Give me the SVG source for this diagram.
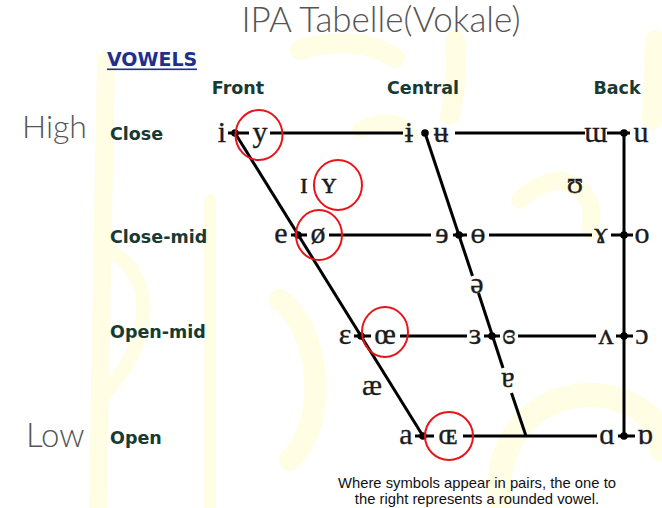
<svg xmlns="http://www.w3.org/2000/svg" width="662" height="508" viewBox="0 0 662 508">
  <style>
    .title { font-family: Lato, "Open Sans", sans-serif; font-weight: 300; fill: #555555; }
    .hdr { font-family: "DejaVu Sans", Verdana, sans-serif; font-weight: bold; font-size: 17.5px; fill: #173a33; }
    .v { font-family: "Liberation Serif", "DejaVu Serif", serif; font-size: 30px; fill: #1c1c1c; stroke: #1c1c1c; stroke-width: 0.35; text-anchor: middle; }
    .note { font-family: "Liberation Sans", Arial, sans-serif; font-size: 14.8px; fill: #111; text-anchor: middle; }
    .ln { stroke: #000; stroke-width: 3; fill: none; stroke-linecap: butt; }
    .dot { fill: #000; }
    .ring { fill: none; stroke: #e8141a; stroke-width: 2; }
    .wm { fill: none; stroke: #fffde4; stroke-linecap: round; }
  </style>

  <rect width="662" height="508" fill="#ffffff"/>

  <!-- faint watermark glyph strokes in the background -->
  <g id="watermark">
    <path class="wm" stroke-width="18" d="M106 60 C104 200 100 360 98 508"/>
    <path class="wm" stroke-width="14" d="M108 250 C150 270 160 330 108 390"/>
    <path class="wm" stroke-width="12" d="M210 200 L210 508"/>
    <path class="wm" stroke-width="20" d="M300 50 C330 40 370 40 395 58"/>
    <path class="wm" stroke-width="20" d="M455 40 C458 70 455 95 450 115"/>
    <path class="wm" stroke-width="16" d="M360 130 C380 120 400 118 410 135"/>
    <path class="wm" stroke-width="20" d="M655 40 L652 120"/>
    <path class="wm" stroke-width="18" d="M520 200 C560 160 600 190 590 230"/>
    <path class="wm" stroke-width="22" d="M280 300 C320 330 330 420 290 460"/>
    <path class="wm" stroke-width="24" d="M500 508 C490 420 560 380 620 400 C650 410 662 430 662 450"/>
  </g>

  <!-- heading texts -->
  <text class="title" x="381" y="32" font-size="35" text-anchor="middle">IPA Tabelle(Vokale)</text>
  <text x="107" y="66" font-family="DejaVu Sans, Verdana, sans-serif" font-weight="bold" font-size="19" fill="#1e2f8f">VOWELS</text>
  <rect x="107" y="68.5" width="90" height="1.6" fill="#1e2f8f"/>

  <g id="columns">
    <text class="hdr" x="238" y="94" text-anchor="middle">Front</text>
    <text class="hdr" x="423" y="94" text-anchor="middle">Central</text>
    <text class="hdr" x="617" y="94" text-anchor="middle">Back</text>
  </g>

  <g id="rows">
    <text class="title" x="22" y="138" font-size="32">High</text>
    <text class="title" x="26" y="447" font-size="33">Low</text>
    <text class="hdr" x="110" y="140">Close</text>
    <text class="hdr" x="110" y="243">Close-mid</text>
    <text class="hdr" x="110" y="338">Open-mid</text>
    <text class="hdr" x="110" y="444">Open</text>
  </g>

  <!-- chart frame lines -->
  <g id="connectors">
    <!-- front edge -->
    <path class="ln" d="M235 133 L423 436"/>
    <!-- central edge, broken at the schwa and turned a -->
    <path class="ln" d="M425 133 L472.5 276"/>
    <path class="ln" d="M478.5 293 L503 368"/>
    <path class="ln" d="M511.5 393 L526 436"/>
    <!-- back edge -->
    <path class="ln" d="M624 133 L624 436"/>
    <!-- close -->
    <path class="ln" d="M228 133 H249 M270 133 H403 M455 133 H585 M607 133 H630"/>
    <!-- close-mid -->
    <path class="ln" d="M291 235 H307 M329 235 H431 M453 235 H467 M489 235 H592 M611 235 H633"/>
    <!-- open-mid -->
    <path class="ln" d="M354 336 H371 M400 336 H467 M484 336 H500 M518 336 H596 M616 336 H633"/>
    <!-- open -->
    <path class="ln" d="M415 436 H434 M463 436 H597 M618 436 H635"/>
    <!-- junction dots -->
    <circle class="dot" cx="235" cy="133" r="3.8"/>
    <circle class="dot" cx="425" cy="133" r="3.8"/>
    <circle class="dot" cx="624" cy="133" r="3.8"/>
    <circle class="dot" cx="298" cy="235" r="3.8"/>
    <circle class="dot" cx="459" cy="235" r="3.8"/>
    <circle class="dot" cx="624" cy="235" r="3.8"/>
    <circle class="dot" cx="361" cy="336" r="3.8"/>
    <circle class="dot" cx="492" cy="336" r="3.8"/>
    <circle class="dot" cx="624" cy="336" r="3.8"/>
    <circle class="dot" cx="423" cy="436" r="3.8"/>
    <circle class="dot" cx="624" cy="436" r="3.8"/>
  </g>

  <!-- vowel symbols -->
  <g id="close-front"><text class="v" x="222" y="142">i</text><text class="v" x="260" y="142">y</text></g>
  <g id="close-central"><text class="v" x="409" y="142">ɨ</text><text class="v" x="441" y="142">ʉ</text></g>
  <g id="close-back"><text class="v" x="596" y="142">ɯ</text><text class="v" x="641" y="142">u</text></g>
  <g id="near-close"><text class="v" x="304" y="193">ɪ</text><text class="v" x="329" y="193">ʏ</text></g>
  <g id="near-close-back"><text class="v" x="575" y="193">ʊ</text></g>
  <g id="close-mid-front"><text class="v" x="281" y="243">e</text><text class="v" x="318" y="243">ø</text></g>
  <g id="close-mid-central"><text class="v" x="442" y="243">ɘ</text><text class="v" x="478" y="243">ɵ</text></g>
  <g id="close-mid-back"><text class="v" x="601" y="243">ɤ</text><text class="v" x="642" y="243">o</text></g>
  <g id="mid-central"><text class="v" x="477" y="293">ə</text></g>
  <g id="open-mid-front"><text class="v" x="345" y="344">ɛ</text><text class="v" x="385" y="344">œ</text></g>
  <g id="open-mid-central"><text class="v" x="475" y="344">ɜ</text><text class="v" x="509" y="344">ɞ</text></g>
  <g id="open-mid-back"><text class="v" x="606" y="344">ʌ</text><text class="v" x="642" y="344">ɔ</text></g>
  <g id="near-open-front"><text class="v" x="372" y="395">æ</text></g>
  <g id="near-open-central"><text class="v" x="508" y="387">ɐ</text></g>
  <g id="open-front"><text class="v" x="406" y="444">a</text><text class="v" x="448" y="444">ɶ</text></g>
  <g id="open-back"><text class="v" x="607" y="444">ɑ</text><text class="v" x="645" y="444">ɒ</text></g>

  <!-- highlighted rounded vowels -->
  <g id="highlights">
    <ellipse class="ring" cx="259" cy="135" rx="23.5" ry="25"/>
    <ellipse class="ring" cx="338" cy="185" rx="24" ry="25"/>
    <ellipse class="ring" cx="319" cy="235" rx="23" ry="25"/>
    <ellipse class="ring" cx="385" cy="332" rx="23" ry="25"/>
    <ellipse class="ring" cx="449" cy="436" rx="24" ry="24"/>
  </g>

  <g id="footnote">
    <text class="note" x="477" y="488">Where symbols appear in pairs, the one to</text>
    <text class="note" x="477" y="504">the right represents a rounded vowel.</text>
  </g>
</svg>
